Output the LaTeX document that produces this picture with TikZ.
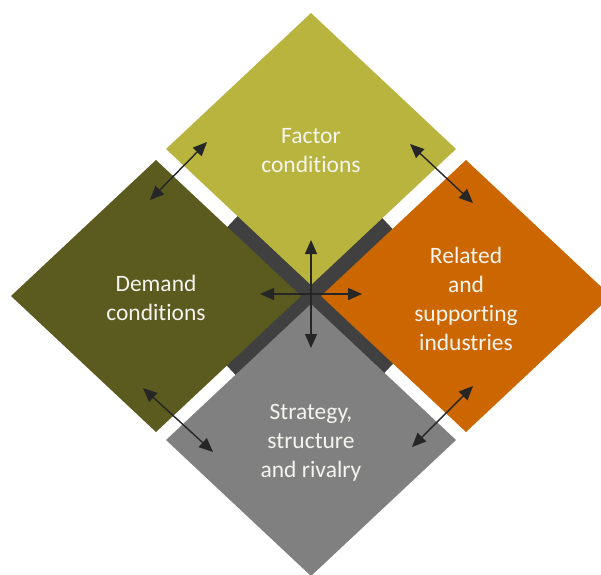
\documentclass[tikz,border=0pt]{standalone}
\usepackage{fontspec}
\setmainfont{Carlito}[Ligatures=CommonOff]
\usetikzlibrary{arrows.meta}
\definecolor{cTop}{HTML}{B8B43E}
\definecolor{cLeft}{HTML}{5B5A1F}
\definecolor{cRight}{HTML}{CC6600}
\definecolor{cBot}{HTML}{808080}
\definecolor{cBar}{HTML}{404040}
\definecolor{cArr}{HTML}{262626}
\definecolor{cTxt}{HTML}{F4F4F0}
\begin{document}
\begin{tikzpicture}[x=1pt,y=-1pt,
  lbl/.style={text=cTxt, align=center, font=\fontsize{23.5}{29}\selectfont, inner sep=0pt},
  bar/.style={draw=cBar, line width=22pt},
  arr/.style={draw=cArr, line width=1.4pt, -{Triangle[length=14pt,width=12pt]}},
  darr/.style={draw=cArr, line width=1.4pt, {Triangle[length=14pt,width=12pt]}-{Triangle[length=14pt,width=12pt]}}]
\useasboundingbox (0,0) rectangle (601,574);
\clip (0,0) rectangle (601,574);
% centre and bar ends
\coordinate (O) at (311,294);
\coordinate (b1) at (233,221);
\coordinate (b2) at (389,368);
\coordinate (b3) at (386,222);
\coordinate (b4) at (230,369);
\draw[bar] (b1) -- (b2);
\draw[bar] (b3) -- (b4);
% diamonds
\foreach \n/\x/\y/\c in {T/311/149/cTop, L/156/296/cLeft, R/466/296/cRight, B/311/440/cBot}{
  \coordinate (\n) at (\x,\y);
  \fill[\c] ([shift={(0,-136)}]\n) -- ([shift={(145,0)}]\n) -- ([shift={(0,136)}]\n) -- ([shift={(-145,0)}]\n) -- cycle;
}
% labels
\node[lbl] (tT) at (311,151) {Factor\\conditions};
\node[lbl] (tL) at (156,298) {Demand\\conditions};
\node[lbl] (tR) at (466,299) {Related\\and\\supporting\\industries};
\node[lbl] (tB) at (311,443) {Strategy,\\structure\\and rivalry};
% double arrows between neighbours
\coordinate (p1) at (207,142);
\coordinate (p2) at (150,200);
\coordinate (p3) at (410,144);
\coordinate (p4) at (473,203);
\coordinate (p5) at (143,388);
\coordinate (p6) at (213,452);
\coordinate (p7) at (473,386);
\coordinate (p8) at (412,447);
\draw[darr] (p1) -- (p2);
\draw[darr] (p3) -- (p4);
\draw[darr] (p5) -- (p6);
\draw[darr] (p7) -- (p8);
% centre cross arrows
\coordinate (cu) at (311,240);
\coordinate (cd) at (311,348);
\coordinate (cl) at (260,294);
\coordinate (cr) at (362,294);
\draw[arr] (O) -- (cu);
\draw[arr] (O) -- (cd);
\draw[arr] (O) -- (cl);
\draw[arr] (O) -- (cr);
\end{tikzpicture}
\end{document}
